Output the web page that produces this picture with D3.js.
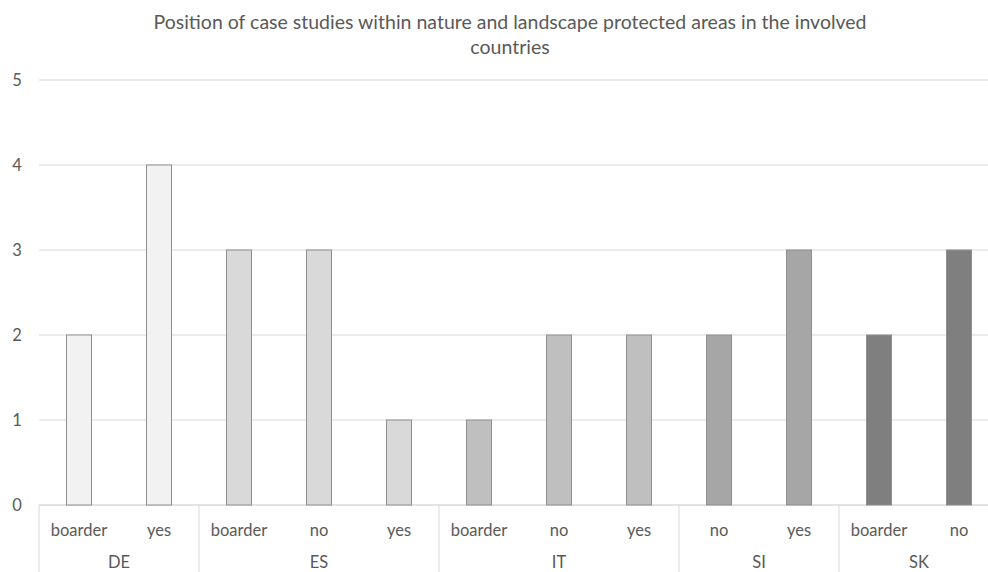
<!DOCTYPE html>
<html>
<head>
<meta charset="utf-8">
<script src="https://cdn.jsdelivr.net/npm/d3@7"></script>
<style>
  body { margin: 0; background: #fff; }
  text { font-family: Lato, "Open Sans", sans-serif; fill: #595959; }
</style>
</head>
<body>
<div id="chart"></div>
<script>
// data
const countries = ["DE", "ES", "IT", "SI", "SK"];
const positions = [["boarder", "yes"], ["boarder", "no", "yes"], ["boarder", "no", "yes"], ["no", "yes"], ["boarder", "no"]];
const counts = [[2, 4], [3, 3, 1], [1, 2, 2], [2, 3], [2, 3]];
const countryFill = ["#f2f2f2", "#d9d9d9", "#bfbfbf", "#a6a6a6", "#7f7f7f"];
const yTicks = [0, 1, 2, 3, 4, 5];

const W = 988, H = 572;
const margin = { top: 80, right: -11, bottom: 67, left: 39 };
const width = W - margin.left - margin.right;
const height = H - margin.top - margin.bottom;

const svg = d3.select("#chart").append("svg")
  .attr("width", W).attr("height", H);

// flatten into slots
const slots = [];
countries.forEach((c, ci) => {
  positions[ci].forEach((p, pi) => {
    slots.push({ country: c, ci: ci, pos: p, value: counts[ci][pi], key: c + "-" + p });
  });
});

const x = d3.scaleBand()
  .domain(slots.map(d => d.key))
  .range([margin.left, margin.left + width])
  .paddingInner(0).paddingOuter(0);

const y = d3.scaleLinear()
  .domain([0, 5])
  .range([margin.top + height, margin.top]);

// title
svg.append("text")
  .attr("x", 510).attr("y", 29)
  .attr("text-anchor", "middle")
  .style("font-size", "19.5px")
  .text("Position of case studies within nature and landscape protected areas in the involved");
svg.append("text")
  .attr("x", 510).attr("y", 54)
  .attr("text-anchor", "middle")
  .style("font-size", "19.5px")
  .text("countries");

// gridlines
svg.append("g").selectAll("line")
  .data(yTicks)
  .enter().append("line")
  .attr("x1", margin.left).attr("x2", margin.left + width)
  .attr("y1", d => y(d)).attr("y2", d => y(d))
  .attr("stroke", d => d === 0 ? "#d9d9d9" : "#e4e4e4")
  .attr("stroke-width", 1.5);

// y labels
svg.append("g").selectAll("text")
  .data(yTicks)
  .enter().append("text")
  .attr("x", 17).attr("y", d => y(d) + 6)
  .attr("text-anchor", "middle")
  .style("font-size", "16.5px")
  .text(d => d);

// bars
const bw = 25;
svg.append("g").selectAll("rect")
  .data(slots)
  .enter().append("rect")
  .attr("x", d => x(d.key) + x.bandwidth() / 2 - bw / 2)
  .attr("y", d => y(d.value))
  .attr("width", bw)
  .attr("height", d => y(0) - y(d.value))
  .attr("fill", d => countryFill[d.ci])
  .attr("stroke", "#8f8f8f")
  .attr("stroke-width", 1);

// category labels
svg.append("g").selectAll("text")
  .data(slots)
  .enter().append("text")
  .attr("x", d => x(d.key) + x.bandwidth() / 2)
  .attr("y", 536)
  .attr("text-anchor", "middle")
  .style("font-size", "16.5px")
  .text(d => d.pos);

// group separators and country labels
const groups = countries.map((c, ci) => {
  const ks = slots.filter(d => d.ci === ci);
  return { country: c, x0: x(ks[0].key), x1: x(ks[ks.length - 1].key) + x.bandwidth() };
});
svg.append("g").selectAll("line")
  .data(groups)
  .enter().append("line")
  .attr("x1", d => d.x0).attr("x2", d => d.x0)
  .attr("y1", y(0)).attr("y2", H)
  .attr("stroke", "#d9d9d9").attr("stroke-width", 1);

svg.append("g").selectAll("text")
  .data(groups)
  .enter().append("text")
  .attr("x", d => (d.x0 + d.x1) / 2)
  .attr("y", 568)
  .attr("text-anchor", "middle")
  .style("font-size", "16.5px")
  .text(d => d.country);
</script>
</body>
</html>
